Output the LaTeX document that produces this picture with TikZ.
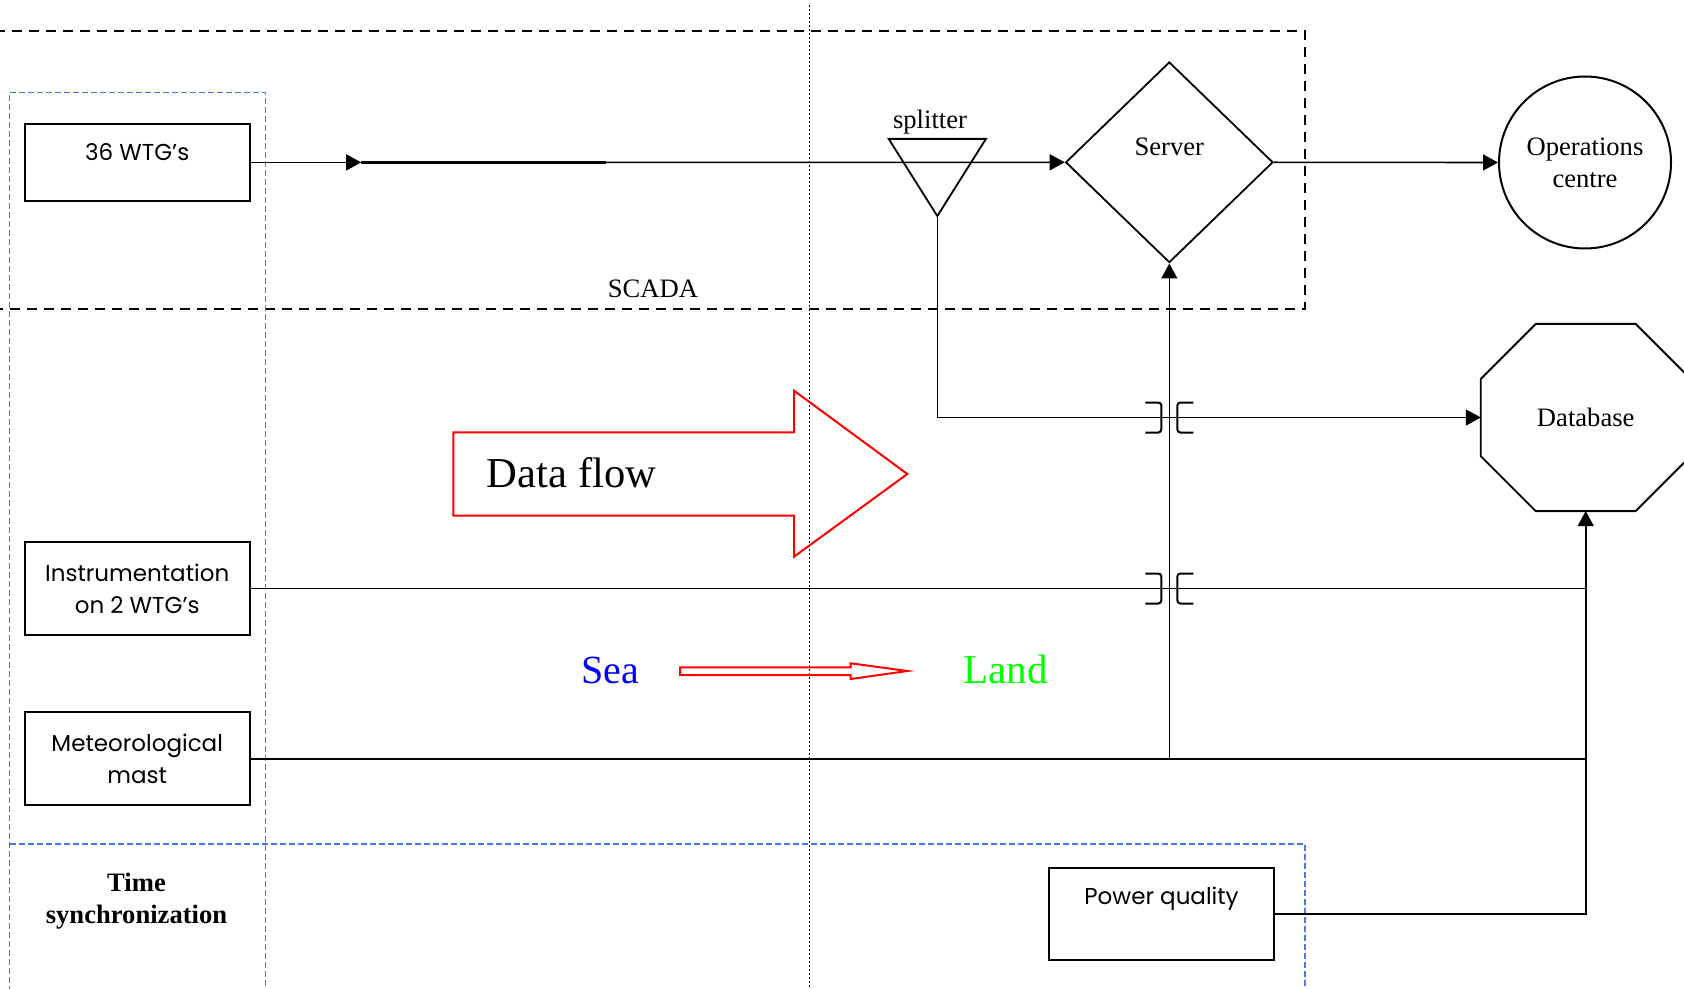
\documentclass[tikz,border=0pt]{standalone}
\usepackage{fontspec}
\setmainfont{Liberation Serif}
\newfontfamily\unitfont{Poppins}
\usetikzlibrary{shapes.geometric, arrows.meta}

\definecolor{syncblue}{RGB}{70,120,240}
\definecolor{flowred}{RGB}{255,0,0}
\definecolor{seablue}{RGB}{0,0,255}
\definecolor{landgreen}{RGB}{0,255,0}

\begin{document}
\begin{tikzpicture}[
    x=0.5pt, y=-0.5pt,
    unit/.style={draw, line width=1pt, minimum width=112.5pt, align=center,
                 font=\unitfont\fontsize{11.5}{16}\selectfont}, % measurement boxes
    lbl/.style={font=\fontsize{13.3}{16}\selectfont, align=center}, % serif labels
    conn/.style={line width=0.8pt},
    arr/.style={conn, -{Triangle[length=7.5pt, width=8pt]}},
    scada/.style={dash pattern=on 5pt off 3.5pt, line width=0.9pt},
    sync/.style={syncblue, dash pattern=on 3pt off 1.5pt, line width=0.55pt},
    jump/.style={line width=1pt, rounded corners=1.5pt},
    hollow/.style={flowred, line width=1pt}
    ]
    \useasboundingbox (0,0) rectangle (1684,989);

    % zones
    \draw[scada] (-5,31) -- (1305,31) -- (1305,309) -- (-5,309);
    \draw[sync] (265.5,995) -- (265.5,92.5) -- (9.5,92.5) -- (9.5,995);
    \draw[sync] (9.5,844) -- (1305,844) -- (1305,995);
    \draw[line width=0.8pt, dash pattern=on 0.8pt off 1.2pt] (809.3,5) -- (809.3,995); % sea / land border
    \node[lbl] (scadalbl) at (653,289) {SCADA};
    \node[lbl, font=\bfseries\fontsize{13.3}{16}\selectfont] (synclbl) at (136.5,901) {Time\\synchronization};

    % sources
    \node[unit, minimum height=38.5pt, text height=9pt, text depth=10.7pt] (wtg) at (137.2,162.4) {36 WTG’s};
    \node[unit, minimum height=46.5pt] (instr) at (137.2,588.5) {Instrumentation\\on 2 WTG’s};
    \node[unit, minimum height=46.5pt] (met) at (137.2,758.5) {Meteorological\\mast};
    \node[unit, minimum height=46pt, text height=9pt, text depth=19pt] (pq) at (1161.5,914) {Power quality};

    % splitter, server, operations centre, database
    \node[minimum width=48.2pt, minimum height=38.2pt, inner sep=0] (split) at (937.3,177.5) {};
    \draw[line width=0.9pt] (split.north west) -- (split.north east) -- (split.south) -- cycle;
    \node[lbl] (splitlbl) at (930,122) {splitter};
    \node[diamond, draw, line width=0.9pt, minimum width=103.7pt, minimum height=100.3pt, inner sep=0,
          lbl, text height=9pt, text depth=15.3pt] (server) at (1169.3,162.3) {Server};
    \node[circle, draw, line width=1pt, minimum size=86pt, inner sep=0, lbl] (ops) at (1585,162.5) {Operations\\centre};
    \node[minimum width=104.5pt, minimum height=93.2pt, inner sep=0, lbl] (db) at (1585.7,417.5) {Database};
    \draw[line width=0.9pt] ([shift={(55,0)}]db.north west) -- ([shift={(-55,0)}]db.north east)
        -- ([shift={(0,55)}]db.north east) -- ([shift={(0,-55)}]db.south east)
        -- ([shift={(-55,0)}]db.south east) -- ([shift={(55,0)}]db.south west)
        -- ([shift={(0,-55)}]db.south west) -- ([shift={(0,55)}]db.north west) -- cycle;

    % connectors
    \path (wtg.east) ++(110.5,0) coordinate (tipA) ++(245,0) coordinate (thickend);
    \draw[arr] (wtg.east) -- (tipA);
    \draw[line width=1.4pt] (tipA) -- (thickend);
    \draw[arr] (thickend) -- (server.west);
    \draw[arr] (server.east) -- (ops.west);
    \draw[arr] (split.south) |- (db.west);
    \draw[conn] (instr.east) -- (instr.east -| db.south);
    \draw[conn, line width=1pt] (met.east) -- (met.east -| db.south);
    \draw[arr] (met.east -| server.south) -- (server.south);
    \draw[arr] (pq.east) -| (db.south);

    % line jumps on the server feed
    \foreach \p in {db.west, instr.east} {
      \coordinate (jmp) at (server.south |- \p);
      \draw[jump] ([shift={(-24,-15)}]jmp) -- ([shift={(-8,-15)}]jmp) -- ([shift={(-8,15)}]jmp) -- ([shift={(-24,15)}]jmp);
      \draw[jump] ([shift={(24,-15)}]jmp) -- ([shift={(8,-15)}]jmp) -- ([shift={(8,15)}]jmp) -- ([shift={(24,15)}]jmp);
    }

    % direction of data
    \draw[hollow] (453.3,432.3) -- (794,432.3) -- (794,390.7) -- (907.3,474) -- (794,556.7) -- (794,515.7) -- (453.3,515.7) -- cycle;
    \node[anchor=base, font=\fontsize{21.3}{25}\selectfont] (flow) at (571.5,487.3) {Data flow};
    \draw[hollow] (680,667.3) -- (850.7,667.3) -- (850.7,663.3) -- (907.3,671) -- (850.7,679) -- (850.7,675) -- (680,675) -- cycle;
    \node[anchor=base, seablue, font=\fontsize{20}{24}\selectfont] (sea) at (610,683.3) {Sea};
    \node[anchor=base, landgreen, font=\fontsize{20.5}{24}\selectfont] (land) at (1005.5,683.3) {Land};
\end{tikzpicture}
\end{document}
